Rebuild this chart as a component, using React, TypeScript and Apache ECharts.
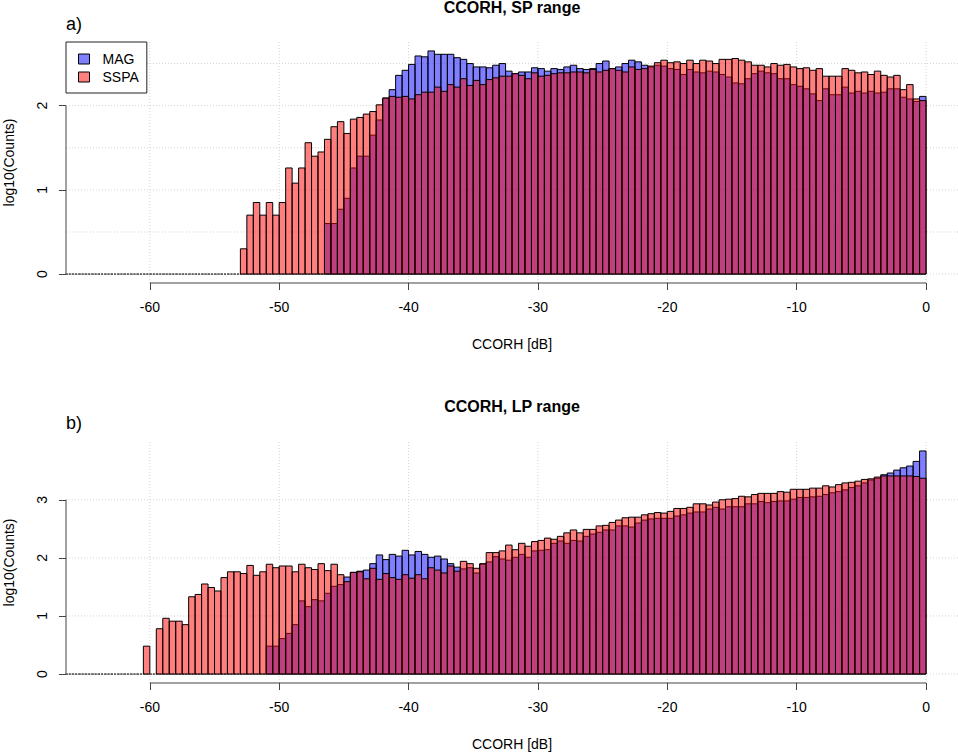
import { useEffect, useRef } from 'react';
import * as echarts from 'echarts';

const FONT = 'Liberation Sans, Arial, Helvetica, sans-serif';

// histogram bins: 0.5 dB wide, first bin starts at -66.5 dB, last one ends at 0 dB
const BIN_START = -66.5;
const BIN_WIDTH = 0.5;

// log10(counts) per bin, SP range
const SP_MAG = [
  0, 0, 0, 0, 0, 0, 0, 0, 0, 0, 0, 0, 0, 0, 0, 0, 0, 0, 0, 0,
  0, 0, 0, 0, 0, 0, 0, 0, 0, 0, 0, 0, 0, 0, 0, 0, 0, 0, 0, 0,
  0.60, 0.60, 0.77, 0.90, 1.26, 1.40, 1.40,
  1.65, 1.83, 2.09, 2.19, 2.36, 2.42, 2.49, 2.59, 2.58, 2.65,
  2.61, 2.61, 2.61, 2.57, 2.55, 2.50, 2.46, 2.46, 2.45, 2.48,
  2.50, 2.41, 2.38, 2.40, 2.40, 2.45, 2.44, 2.41, 2.44, 2.43,
  2.46, 2.48, 2.44, 2.43, 2.44, 2.50, 2.53, 2.44, 2.46, 2.50,
  2.54, 2.52, 2.48, 2.46, 2.48, 2.47, 2.44, 2.43, 2.37, 2.43,
  2.40, 2.39, 2.41, 2.40, 2.37, 2.34, 2.27, 2.26, 2.32, 2.38,
  2.41, 2.39, 2.38, 2.32, 2.32, 2.25, 2.23, 2.20, 2.14, 2.06,
  2.20, 2.13, 2.13, 2.22, 2.15, 2.17, 2.15, 2.17, 2.15, 2.16,
  2.20, 2.20, 2.10, 2.08, 2.05, 2.11,
];
const SP_SSPA = [
  0, 0, 0, 0, 0, 0, 0, 0, 0, 0, 0, 0, 0, 0, 0, 0, 0, 0, 0, 0,
  0, 0, 0, 0, 0, 0, 0,
  0.30, 0.70, 0.85, 0.70, 0.85, 0.70, 0.85, 1.26, 1.08, 1.26,
  1.56, 1.40, 1.45, 1.60, 1.75, 1.81, 1.67, 1.84, 1.86, 1.90,
  1.93, 2.01, 2.09, 2.11, 2.10, 2.11, 2.08, 2.13, 2.16, 2.16,
  2.22, 2.17, 2.25, 2.22, 2.32, 2.24, 2.30, 2.25, 2.31, 2.33,
  2.35, 2.35, 2.38, 2.36, 2.32, 2.39, 2.35, 2.36, 2.38, 2.39,
  2.39, 2.40, 2.40, 2.39, 2.43, 2.40, 2.42, 2.44, 2.42, 2.40,
  2.46, 2.43, 2.44, 2.47, 2.51, 2.54, 2.51, 2.52, 2.50, 2.54,
  2.50, 2.54, 2.53, 2.50, 2.55, 2.55, 2.56, 2.54, 2.52, 2.48,
  2.48, 2.46, 2.50, 2.48, 2.49, 2.46, 2.44, 2.45, 2.42, 2.44,
  2.35, 2.35, 2.35, 2.44, 2.42, 2.39, 2.40, 2.37, 2.41, 2.36,
  2.34, 2.36, 2.19, 2.25, 2.08, 2.06,
];

// log10(counts) per bin, LP range
const LP_MAG = [
  0, 0, 0, 0, 0, 0, 0, 0, 0, 0, 0, 0, 0, 0, 0, 0, 0, 0, 0, 0,
  0, 0, 0, 0, 0, 0, 0, 0, 0, 0, 0,
  0.48, 0.48, 0.61, 0.70, 0.85, 1.26, 1.16, 1.28, 1.26, 1.39,
  1.51, 1.54, 1.67, 1.75, 1.77, 1.79, 1.90, 2.05, 1.97, 2.06,
  2.03, 2.13, 2.05, 2.11, 2.06, 2.01, 2.03, 1.98, 1.90, 1.84,
  1.81, 1.83, 1.74, 1.89, 1.93, 2.02, 1.98, 1.96, 2.01, 2.06,
  2.01, 2.12, 2.13, 2.14, 2.25, 2.29, 2.25, 2.30, 2.29, 2.37,
  2.41, 2.44, 2.48, 2.48, 2.55, 2.55, 2.53, 2.60, 2.65, 2.67,
  2.68, 2.68, 2.68, 2.72, 2.74, 2.77, 2.79, 2.79, 2.84, 2.87,
  2.84, 2.88, 2.88, 2.88, 2.93, 2.93, 2.97, 2.95, 2.97, 2.98,
  2.98, 3.01, 3.04, 3.04, 3.05, 3.06, 3.09, 3.12, 3.14, 3.17,
  3.21, 3.24, 3.29, 3.34, 3.37, 3.43, 3.46, 3.51, 3.55, 3.58,
  3.66, 3.84,
];
const LP_SSPA = [
  0, 0, 0, 0, 0, 0, 0, 0, 0, 0, 0, 0,
  0.48, 0, 0.78, 0.96, 0.91, 0.91, 0.85, 1.33, 1.37, 1.55,
  1.49, 1.43, 1.66, 1.76, 1.76, 1.73, 1.87, 1.70, 1.76, 1.89,
  1.83, 1.86, 1.86, 1.76, 1.89, 1.83, 1.80, 1.90, 1.78, 1.89,
  1.71, 1.59, 1.75, 1.76, 1.64, 1.82, 1.63, 1.73, 1.66, 1.63,
  1.71, 1.65, 1.71, 1.64, 1.83, 1.79, 1.74, 1.86, 1.77, 1.94,
  1.90, 1.82, 1.90, 2.09, 2.09, 2.12, 2.22, 2.14, 2.25, 2.20,
  2.28, 2.30, 2.34, 2.32, 2.37, 2.43, 2.48, 2.43, 2.49, 2.49,
  2.55, 2.56, 2.61, 2.65, 2.69, 2.70, 2.70, 2.74, 2.76, 2.78,
  2.77, 2.80, 2.85, 2.85, 2.87, 2.93, 2.93, 2.91, 2.96, 3.00,
  3.01, 3.02, 3.06, 3.05, 3.09, 3.11, 3.11, 3.11, 3.14, 3.13,
  3.18, 3.18, 3.18, 3.20, 3.20, 3.24, 3.22, 3.26, 3.29, 3.30,
  3.32, 3.35, 3.36, 3.39, 3.41, 3.41, 3.41, 3.41, 3.41, 3.40,
  3.37,
];

const X_TICKS = [-60, -50, -40, -30, -20, -10, 0];
const SP_Y_TICKS = [0, 1, 2];
const LP_Y_TICKS = [0, 1, 2, 3];
const SP_Y_GRID = [0, 0.5, 1, 1.5, 2, 2.5];
const LP_Y_GRID = [0, 1, 2, 3];

const X_MIN = -66.48;
const X_MAX = 2.47;

const MAG_FILL = 'rgba(0,0,255,0.5)';
const SSPA_FILL = 'rgba(255,0,0,0.5)';
const AXIS_COLOR = '#444';

const toBins = (values: number[]) =>
  values.map((v, i) => [BIN_START + i * BIN_WIDTH, BIN_START + (i + 1) * BIN_WIDTH, v]);

const histSeries = (name: string, idx: number, values: number[], fill: string) => ({
  type: 'custom',
  name,
  xAxisIndex: idx,
  yAxisIndex: idx,
  z: 2,
  itemStyle: { color: fill, borderColor: '#000', borderWidth: 1 },
  encode: { x: [0, 1], y: 2 },
  data: toBins(values),
  renderItem: (_params: any, api: any) => {
    const top = api.coord([api.value(0), api.value(2)]);
    const base = api.coord([api.value(1), 0]);
    if (api.value(2) === 0) {
      return {
        type: 'line',
        shape: { x1: top[0], y1: base[1], x2: base[0], y2: base[1] },
        style: { stroke: '#555', lineWidth: 1.2, lineDash: [2, 1] },
      };
    }
    return {
      type: 'rect',
      shape: { x: top[0], y: top[1], width: base[0] - top[0], height: base[1] - top[1] },
      style: { fill, stroke: '#000', lineWidth: 1 },
    };
  },
});

const gridLines = (idx: number, yGrid: number[]) => ({
  type: 'custom',
  xAxisIndex: idx,
  yAxisIndex: idx,
  silent: true,
  z: 1,
  data: [
    ...X_TICKS.map((v) => [v, 0, 0]),
    ...yGrid.map((v) => [0, v, 1]),
  ],
  renderItem: (params: any, api: any) => {
    const cs = params.coordSys;
    const p = api.coord([api.value(0), api.value(1)]);
    const vertical = api.value(2) === 0;
    return {
      type: 'line',
      shape: vertical
        ? { x1: p[0], y1: cs.y, x2: p[0], y2: cs.y + cs.height }
        : { x1: cs.x, y1: p[1], x2: cs.x + cs.width, y2: p[1] },
      style: { stroke: '#d3d3d3', lineWidth: 1, lineDash: [1, 2] },
    };
  },
});

// R-style axis lines, drawn only between the first and last tick
const axisFrame = (idx: number, yTicks: number[]) => ({
  type: 'custom',
  xAxisIndex: idx,
  yAxisIndex: idx,
  silent: true,
  z: 3,
  data: [[0, 0]],
  renderItem: (params: any, api: any) => {
    const cs = params.coordSys;
    const xa = api.coord([X_TICKS[0], 0])[0];
    const xb = api.coord([X_TICKS[X_TICKS.length - 1], 0])[0];
    const ya = api.coord([0, yTicks[0]])[1];
    const yb = api.coord([0, yTicks[yTicks.length - 1]])[1];
    const bottom = cs.y + cs.height;
    return {
      type: 'group',
      children: [
        { type: 'line', shape: { x1: xa, y1: bottom, x2: xb, y2: bottom }, style: { stroke: AXIS_COLOR, lineWidth: 1 } },
        { type: 'line', shape: { x1: cs.x, y1: ya, x2: cs.x, y2: yb }, style: { stroke: AXIS_COLOR, lineWidth: 1 } },
      ],
    };
  },
});

const xAxis = (idx: number) => ({
  gridIndex: idx,
  type: 'value',
  min: X_MIN,
  max: X_MAX,
  position: 'bottom',
  axisLine: { show: false, onZero: false },
  axisTick: { show: true, customValues: X_TICKS, length: 7, lineStyle: { color: AXIS_COLOR } },
  axisLabel: { customValues: X_TICKS, margin: 17, fontSize: 14, color: '#000', fontFamily: FONT },
  splitLine: { show: false },
  name: 'CCORH [dB]',
  nameLocation: 'middle',
  nameGap: 54,
  nameTextStyle: { fontSize: 14, color: '#000', fontFamily: FONT },
});

const yAxis = (idx: number, min: number, max: number, ticks: number[]) => ({
  gridIndex: idx,
  type: 'value',
  min,
  max,
  position: 'left',
  axisLine: { show: false, onZero: false },
  axisTick: { show: true, customValues: ticks, length: 7, lineStyle: { color: AXIS_COLOR } },
  axisLabel: { customValues: ticks, rotate: 90, margin: 17, fontSize: 14, color: '#000', fontFamily: FONT },
  splitLine: { show: false },
  name: 'log10(Counts)',
  nameLocation: 'middle',
  nameGap: 50,
  nameRotate: 90,
  nameTextStyle: { fontSize: 14, color: '#000', fontFamily: FONT },
});

export default function App() {
  const chartRef = useRef<HTMLDivElement>(null);

  useEffect(() => {
    document.body.style.margin = '0';
    if (!chartRef.current) return;
    const chart = echarts.init(chartRef.current, null, { renderer: 'svg' });

    const titleStyle = { fontSize: 16, fontWeight: 'bold', color: '#000', fontFamily: FONT };
    const tagStyle = { fontSize: 18, fontWeight: 'normal', color: '#000', fontFamily: FONT };

    chart.setOption({
      animation: false,
      backgroundColor: '#fff',
      title: [
        { text: 'CCORH, SP range', left: 512, top: -1, textAlign: 'center', padding: 0, textStyle: titleStyle },
        { text: 'a)', left: 66, top: 15, padding: 0, textStyle: tagStyle },
        { text: 'CCORH, LP range', left: 512, top: 398, textAlign: 'center', padding: 0, textStyle: titleStyle },
        { text: 'b)', left: 66, top: 414, padding: 0, textStyle: tagStyle },
      ],
      legend: {
        data: ['MAG', 'SSPA'],
        left: 66,
        top: 42,
        orient: 'vertical',
        icon: 'rect',
        itemWidth: 11,
        itemHeight: 10,
        itemGap: 4,
        padding: [10, 8, 9, 12],
        borderColor: '#222',
        borderWidth: 1,
        borderRadius: 0,
        backgroundColor: '#fff',
        itemStyle: { borderColor: '#000', borderWidth: 1 },
        textStyle: { fontSize: 14, color: '#000', fontFamily: FONT, padding: [0, 0, 0, 8] },
      },
      grid: [
        { left: 66, top: 42, width: 892, height: 241, containLabel: false, outerBoundsMode: 'none' },
        { left: 66, top: 442, width: 892, height: 241, containLabel: false, outerBoundsMode: 'none' },
      ],
      xAxis: [xAxis(0), xAxis(1)],
      yAxis: [yAxis(0, -0.106, 2.756, SP_Y_TICKS), yAxis(1, -0.154, 3.994, LP_Y_TICKS)],
      series: [
        gridLines(0, SP_Y_GRID),
        gridLines(1, LP_Y_GRID),
        histSeries('MAG', 0, SP_MAG, MAG_FILL),
        histSeries('SSPA', 0, SP_SSPA, SSPA_FILL),
        histSeries('MAG', 1, LP_MAG, MAG_FILL),
        histSeries('SSPA', 1, LP_SSPA, SSPA_FILL),
        axisFrame(0, SP_Y_TICKS),
        axisFrame(1, LP_Y_TICKS),
      ],
    });

    return () => chart.dispose();
  }, []);

  return <div ref={chartRef} style={{ width: 958, height: 753 }} />;
}
